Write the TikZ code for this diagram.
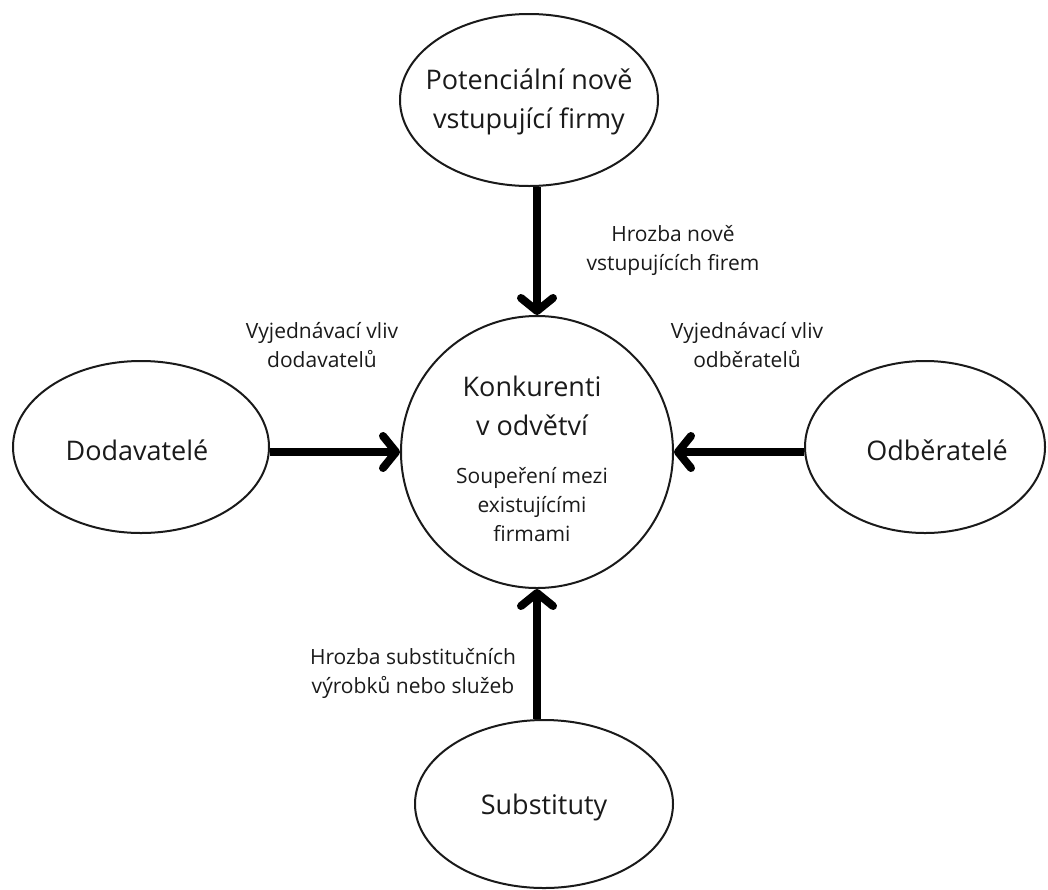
\documentclass[tikz,border=0pt]{standalone}
\usepackage{fontspec}
\setmainfont{Open Sans}
\usetikzlibrary{shapes.geometric,arrows.meta}
\definecolor{ink}{HTML}{1A1A1A}
\tikzset{
  oval/.style={ellipse, draw=ink, line width=2pt, inner sep=0pt},
  lbl/.style={text=ink, font=\fontsize{21}{29}\selectfont, align=center, inner sep=0pt},
  big/.style={text=ink, font=\fontsize{27}{39}\selectfont, align=center, inner sep=0pt},
  arr/.style={line width=8pt, draw=black, -{Straight Barb[length=13pt,width=32pt,round]}},
}
\begin{document}
\begin{tikzpicture}[x=1pt,y=-1pt]
\useasboundingbox (0,0) rectangle (1048,889);
\node[oval, minimum width=258pt, minimum height=172pt] (top) at (529,100) {};
\node[circle, draw=ink, line width=2pt, minimum size=272pt, inner sep=0pt] (core) at (537,452) {};
\node[oval, minimum width=256pt, minimum height=172pt] (dod) at (141,447) {};
\node[oval, minimum width=240pt, minimum height=172pt] (odb) at (925,447) {};
\node[oval, minimum width=258pt, minimum height=168pt] (sub) at (544,804) {};

\node[big] (ttop) at (529,102) {Potenciální nově\\vstupující firmy};
\node[big] (tdod) at (137,450) {Dodavatelé};
\node[big] (todb) at (937,450) {Odběratelé};
\node[big] (tsub) at (544,807) {Substituty};

\node[big] (k1) at (532,406) {Konkurenti\\v odvětví};
\node[lbl] (k2) at (532,505) {Soupeření mezi\\existujícími\\firmami};

\node[lbl] (l1) at (673,250) {Hrozba nově\\vstupujících firem};
\node[lbl] (l2) at (322,345) {Vyjednávací vliv\\dodavatelů};
\node[lbl] (l3) at (747,345) {Vyjednávací vliv\\odběratelů};
\node[lbl] (l4) at (413,673) {Hrozba substitučních\\výrobků nebo služeb};

\draw[arr] (core.north |- top.south) -- (core.north);
\draw[arr] (dod.east |- core.west) -- (core.west);
\draw[arr] (odb.west |- core.east) -- (core.east);
\draw[arr] (core.south |- sub.north) -- (core.south);
\end{tikzpicture}
\end{document}
